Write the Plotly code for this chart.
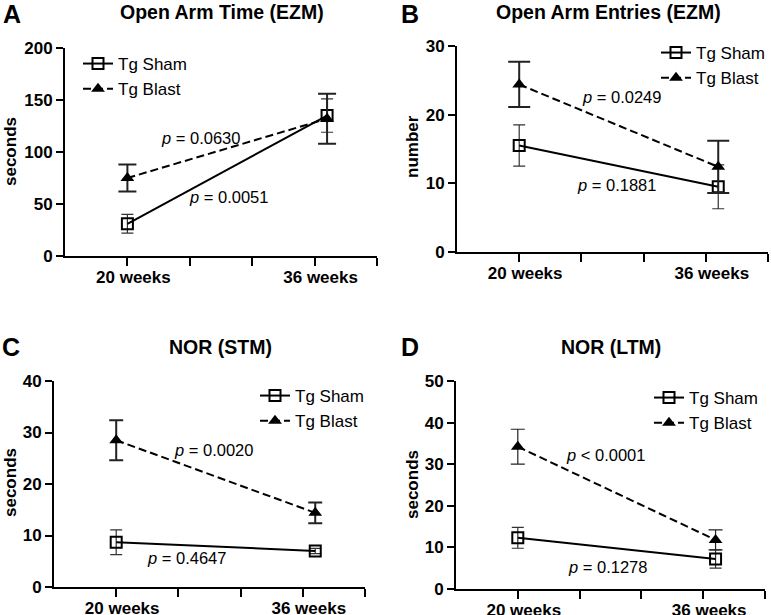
import plotly.graph_objects as go

# ---------------- data ----------------
timepoints = ["20 weeks", "36 weeks"]
series_names = ["Tg Sham", "Tg Blast"]

panel_letters = ["A", "B", "C", "D"]
panel_titles = ["Open Arm Time (EZM)", "Open Arm Entries (EZM)", "NOR (STM)", "NOR (LTM)"]
y_titles = ["seconds", "number", "seconds", "seconds"]
y_ranges = [(0, 200), (0, 30), (0, 40), (0, 50)]
y_dticks = [50, 10, 10, 10]

sham_A = [31, 135]
sham_A_err = [9, 16]
blast_A = [75, 132]
blast_A_err = [13, 24]

sham_B = [15.5, 9.5]
sham_B_err = [3.0, 3.2]
blast_B = [24.4, 12.4]
blast_B_err = [3.3, 3.8]

sham_C = [8.7, 7.0]
sham_C_err = [2.4, 0.5]
blast_C = [28.5, 14.4]
blast_C_err = [3.9, 2.0]

sham_D = [12.3, 7.2]
sham_D_err = [2.5, 2.2]
blast_D = [34.2, 11.8]
blast_D_err = [4.2, 2.4]

p_blast = ["<i>p</i> = 0.0630", "<i>p</i> = 0.0249", "<i>p</i> = 0.0020", "<i>p</i> < 0.0001"]
p_sham = ["<i>p</i> = 0.0051", "<i>p</i> = 0.1881", "<i>p</i> = 0.4647", "<i>p</i> = 0.1278"]

# ---------------- layout helpers ----------------
W, H = 771, 615
FONT = "Arial, 'Liberation Sans', Helvetica, sans-serif"
x_pos = [1, 4.2]  # category positions on the axis (36 weeks drawn slightly right of its tick)


def px(x):
    return x / W


def py(y):
    return 1 - y / H


# plot areas in pixels: (left, right, top, bottom)
areas = [(65, 377, 48, 256), (457, 768, 46, 252), (54, 365, 381, 587), (456, 765, 381, 589)]
legend_pos = [(78, 46), (656, 35), (255, 378), (649, 380)]
title_pos = [(222, 12), (608, 12), (220, 347), (611, 347)]
letter_pos = [(12, 14), (410, 14), (11, 347), (410, 347)]
ytitle_pos = [(10, 152), (412, 147), (10, 483), (412, 485)]
pblast_pos = [(200, 138), (621, 97), (213, 450), (605, 455)]
psham_pos = [(228, 197), (616, 185), (186, 558), (607, 567)]
blast_err_w = [2.0, 2.0, 2.0, 1.2]
blast_cap = [9, 11, 7, 7]

data = [
    (sham_A, sham_A_err, blast_A, blast_A_err),
    (sham_B, sham_B_err, blast_B, blast_B_err),
    (sham_C, sham_C_err, blast_C, blast_C_err),
    (sham_D, sham_D_err, blast_D, blast_D_err),
]

fig = go.Figure()
annotations = []
layout = {}

for i in range(4):
    sfx = "" if i == 0 else str(i + 1)
    xa, ya = "x" + sfx, "y" + sfx
    lg = "legend" + sfx
    s, se, b, be = data[i]
    fig.add_trace(go.Scatter(
        x=x_pos, y=s, name=series_names[0], xaxis=xa, yaxis=ya, legend=lg,
        mode="lines+markers",
        line=dict(color="black", width=2),
        marker=dict(symbol="square-open", size=11, color="black", line=dict(width=2)),
        error_y=dict(type="data", array=se, color="#333333", thickness=1.2, width=6),
    ))
    fig.add_trace(go.Scatter(
        x=x_pos, y=b, name=series_names[1], xaxis=xa, yaxis=ya, legend=lg,
        mode="lines+markers",
        line=dict(color="black", width=2, dash="8px,4px"),
        marker=dict(symbol="triangle-up", size=12, color="black"),
        error_y=dict(type="data", array=be, color="#222222", thickness=blast_err_w[i], width=blast_cap[i]),
    ))

    l, r, t, bt = areas[i]
    layout["xaxis" + sfx] = dict(
        domain=[px(l), px(r)], range=[0, 5], anchor=ya,
        tickvals=[1, 2, 3, 4, 5], ticktext=[timepoints[0], "", "", timepoints[1], ""],
        showline=True, linecolor="black", linewidth=2, ticks="outside", ticklen=8,
        tickwidth=2, tickcolor="black", showgrid=False, zeroline=False,
        tickfont=dict(family=FONT, size=17, color="black", weight="bold"),
        ticklabelshift=6, ticklabelstandoff=-3, fixedrange=True, automargin=False,
    )
    layout["yaxis" + sfx] = dict(
        domain=[py(bt), py(t)], range=list(y_ranges[i]), anchor=xa,
        dtick=y_dticks[i], tick0=0,
        showline=True, linecolor="black", linewidth=2, ticks="outside", ticklen=7,
        tickwidth=2, tickcolor="black", showgrid=False, zeroline=False,
        tickfont=dict(family=FONT, size=17, color="black", weight="bold"),
        fixedrange=True, automargin=False,
    )
    lx, ly = legend_pos[i]
    layout[lg] = dict(
        x=px(lx), y=py(ly), xanchor="left", yanchor="top",
        font=dict(family=FONT, size=17, color="black"),
        bgcolor="rgba(0,0,0,0)", itemwidth=30, tracegroupgap=0,
    )

    tx, ty = title_pos[i]
    annotations.append(dict(x=px(tx), y=py(ty), xref="paper", yref="paper", text="<b>" + panel_titles[i] + "</b>",
                            showarrow=False, font=dict(family=FONT, size=19.5, color="black"),
                            xanchor="center", yanchor="middle"))
    ax_, ay_ = letter_pos[i]
    annotations.append(dict(x=px(ax_), y=py(ay_), xref="paper", yref="paper", text="<b>" + panel_letters[i] + "</b>",
                            showarrow=False, font=dict(family=FONT, size=25, color="black"),
                            xanchor="center", yanchor="middle"))
    yx, yy = ytitle_pos[i]
    annotations.append(dict(x=px(yx), y=py(yy), xref="paper", yref="paper", text="<b>" + y_titles[i] + "</b>",
                            showarrow=False, textangle=-90, font=dict(family=FONT, size=17, color="black"),
                            xanchor="center", yanchor="middle"))
    bx, by = pblast_pos[i]
    annotations.append(dict(x=px(bx), y=py(by), xref="paper", yref="paper", text=p_blast[i],
                            showarrow=False, font=dict(family=FONT, size=16.5, color="black"),
                            xanchor="center", yanchor="middle"))
    sx, sy = psham_pos[i]
    annotations.append(dict(x=px(sx), y=py(sy), xref="paper", yref="paper", text=p_sham[i],
                            showarrow=False, font=dict(family=FONT, size=16.5, color="black"),
                            xanchor="center", yanchor="middle"))

fig.update_layout(
    width=W, height=H, margin=dict(l=0, r=0, t=0, b=0, autoexpand=False),
    paper_bgcolor="white", plot_bgcolor="white",
    font=dict(family=FONT, color="black"),
    annotations=annotations, showlegend=True,
    **layout,
)

fig.write_html(
    "out.html",
    config={"displayModeBar": False, "staticPlot": True},
    post_script="document.body.style.margin='0';document.body.style.overflow='hidden';",
)
